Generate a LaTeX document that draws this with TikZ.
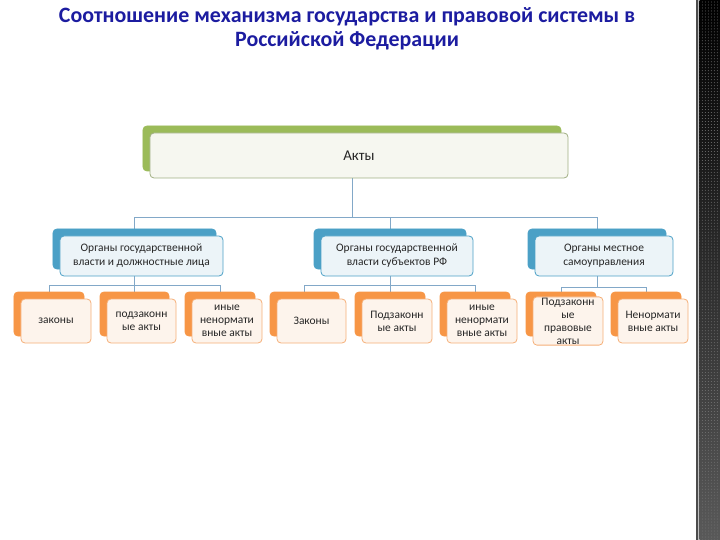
\documentclass[tikz,border=0pt]{standalone}
\usepackage{fontspec}
\setmainfont{Carlito}
\usetikzlibrary{calc,patterns}
\definecolor{titleblue}{RGB}{28,28,160}
\definecolor{grnback}{RGB}{155,187,89}
\definecolor{grnfill}{RGB}{246,247,240}
\definecolor{grnline}{RGB}{160,175,130}
\definecolor{tealback}{RGB}{75,160,198}
\definecolor{tealfill}{RGB}{236,244,248}
\definecolor{tealline}{RGB}{75,160,198}
\definecolor{orgback}{RGB}{247,150,70}
\definecolor{orgfill}{RGB}{253,244,236}
\definecolor{orgline}{RGB}{245,175,120}
\definecolor{connc}{RGB}{130,168,200}
\pgfdeclarelayer{bg}
\pgfsetlayers{bg,main}
\newcommand\cbox[7]{%
  \node[#6back, minimum width=#4bp, minimum height=#5bp] (#1b) at ({#2-7},{#3-7}) {};
  \node[#6front, minimum width=#4bp, minimum height=#5bp] (#1) at (#2,#3) {#7};}
\begin{document}
\begin{tikzpicture}[x=1bp,y=-1bp,
  boxbase/.style={rounded corners=4bp, line width=0.8bp, inner sep=1bp, align=center,
    font=\fontsize{11.5}{13}\selectfont, text=black!85},
  grnback/.style={boxbase, fill=grnback, draw=grnback},
  grnfront/.style={boxbase, fill=grnfill, draw=grnline, font=\fontsize{15}{17}\selectfont},
  tealback/.style={boxbase, fill=tealback, draw=tealback},
  tealfront/.style={boxbase, fill=tealfill, draw=tealline, font=\fontsize{11.5}{14}\selectfont},
  orgback/.style={boxbase, fill=orgback, draw=orgback},
  orgfront/.style={boxbase, fill=orgfill, draw=orgline},
  conn/.style={draw=connc, line width=0.8bp},
  ttl/.style={font=\bfseries\fontsize{22}{24}\selectfont, text=titleblue, align=center}]
\useasboundingbox (0,0) rectangle (720,540);
% right decorative strip
\fill[black!70] (696,0) rectangle (697.5,540);
\fill[black!25] (697.5,0) rectangle (699.5,540);
\shade[top color=black, bottom color=black!65] (699.5,0) rectangle (720,540);
\fill[pattern=dots, pattern color=white!45!black] (699.5,0) rectangle (720,540);
% title
\node[ttl] (title) at (347,29) {Соотношение механизма государства и правовой системы в\\Российской Федерации};
% top
\cbox{akt}{359}{155.5}{418}{45}{grn}{Акты}
% parents
\cbox{pa}{141.5}{256}{163}{40}{teal}{Органы государственной\\власти и должностные лица}
\cbox{pb}{397}{256}{152}{40}{teal}{Органы государственной\\власти субъектов РФ}
\cbox{pc}{604}{256}{138}{40}{teal}{Органы местное\\самоуправления}
% children
\cbox{a1}{56}{321}{70}{44}{org}{законы}
\cbox{a2}{141.5}{321}{69}{44}{org}{подзаконн\\ые акты}
\cbox{a3}{227}{321}{70}{44}{org}{иные\\ненормати\\вные акты}
\cbox{b1}{311.5}{321}{69}{44}{org}{Законы}
\cbox{b2}{397}{321}{70}{44}{org}{Подзаконн\\ые акты}
\cbox{b3}{482}{321}{70}{44}{org}{иные\\ненормати\\вные акты}
\cbox{c1}{568}{321}{70}{44}{org}{Подзаконн\\ые\\правовые\\акты}
\cbox{c2}{653}{321}{70}{44}{org}{Ненормати\\вные акты}
% connectors
\begin{pgfonlayer}{bg}
\draw[conn] (aktb.south) -- ++(0,46) coordinate (j0);
\foreach \p in {pa,pb,pc}{\draw[conn] (j0) -| (\p b.north);}
\draw[conn] (pab.south) -- ++(0,16) coordinate (ja);
\foreach \c in {a1,a2,a3}{\draw[conn] (ja) -| (\c b.north);}
\draw[conn] (pbb.south) -- ++(0,16) coordinate (jb);
\foreach \c in {b1,b2,b3}{\draw[conn] (jb) -| (\c b.north);}
\draw[conn] (pcb.south) -- ++(0,18) coordinate (jc);
\foreach \c in {c1,c2}{\draw[conn] (jc) -| (\c b.north);}
\end{pgfonlayer}
\end{tikzpicture}
\end{document}
